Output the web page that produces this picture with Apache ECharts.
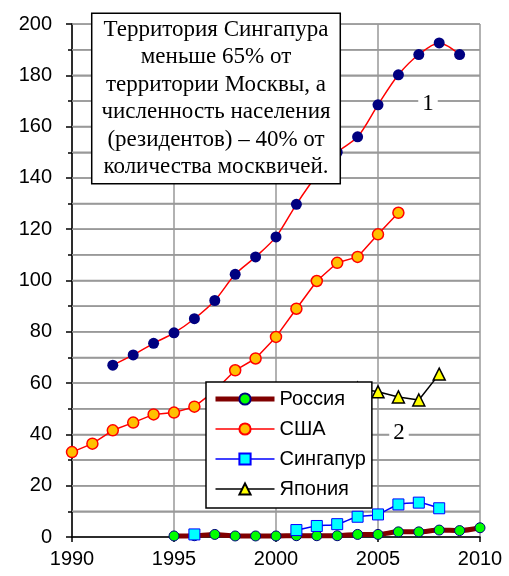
<!DOCTYPE html>
<html><head><meta charset="utf-8">
<script src="https://cdn.jsdelivr.net/npm/echarts@6/dist/echarts.min.js"></script>
<style>html,body{margin:0;padding:0;background:#fff}#c{width:509px;height:576px}</style>
</head><body><div id="c"></div>
<script>
const topYears = [1992,1993,1994,1995,1996,1997,1998,1999,2000,2001,2002,2003,2004,2005,2006,2007,2008,2009];
const topValues = [67,71,75.5,79.6,85.1,92.2,102.4,109.2,117,129.7,141,150,156,168.5,180.2,188.1,192.6,188.1];
const usaYears = [1990,1991,1992,1993,1994,1995,1996,1997,1998,1999,2000,2001,2002,2003,2004,2005,2006];
const usaValues = [33.1,36.4,41.6,44.6,47.8,48.5,50.8,57,65,69.6,78,89,99.8,106.9,109.2,118,126.4];
const singYears = [1996,1997,1998,1999,2000,2001,2002,2003,2004,2005,2006,2007,2008];
const singValues = [1,null,null,null,null,2.7,4.3,5,7.9,8.8,12.7,13.4,11.2];
const japanYears = [2004,2005,2006,2007,2008];
const japanValues = [58,56.6,54.6,53.4,63.5];
const russiaYears = [1995,1996,1997,1998,1999,2000,2001,2002,2003,2004,2005,2006,2007,2008,2009,2010];
const russiaValues = [0.4,0.5,1,0.4,0.4,0.4,0.5,0.5,0.5,1,1,2,2,2.7,2.5,3.6];
const legendNames = ['Россия','США','Сингапур','Япония'];
const legendLineWidths = [5, 1.5, 1.5, 1.5];
const xRange = [1990, 2010];
const gridValues = [10,20,30,40,50,60,70,80,90,100,110,120,130,140,150,160,170,180,190,200];
const noteText = 'Территория Сингапура\nменьше 65% от\nтерритории Москвы, а\nчисленность населения\n(резидентов) – 40% от\nколичества москвичей.';

const pairs = (xs, ys) => xs.map((x, i) => [x, ys[i]]);
const chart = echarts.init(document.getElementById('c'));
const sans = 'Liberation Sans';
const serif = 'Liberation Serif';
const gridSeries = gridValues.map(v => ({
  type: 'line', name: 'grid' + v, data: xRange.map(x => [x, v]), silent: true, z: 1,
  symbol: 'none', lineStyle: {color: '#999', width: 1.5}, emphasis: {disabled: true}, tooltip: {show: false}
}));
chart.setOption({
  animation: false,
  backgroundColor: '#fff',
  grid: {left: 72, right: 29, top: 24, bottom: 39},
  xAxis: {
    type: 'value', min: 1990, max: 2010, interval: 5,
    axisLine: {show: true, lineStyle: {color: '#000', width: 1.5}},
    axisTick: {show: true, length: 5, lineStyle: {color: '#000', width: 1.5}},
    axisLabel: {color: '#000', fontFamily: sans, fontSize: 20, margin: 12, formatter: v => String(v)},
    splitLine: {show: true, lineStyle: {color: '#999', width: 1.5}}
  },
  yAxis: {
    type: 'value', min: 0, max: 200, interval: 20,
    axisLine: {show: true, lineStyle: {color: '#000', width: 1.5}},
    axisTick: {show: true, length: 6, lineStyle: {color: '#000', width: 1.5}},
    axisLabel: {color: '#000', fontFamily: sans, fontSize: 20, margin: 20},
    splitLine: {show: true, lineStyle: {color: '#999', width: 1.5}},
    minorTick: {show: true, splitNumber: 2, length: 4, lineStyle: {color: '#000', width: 1.5}},
    minorSplitLine: {show: true, lineStyle: {color: '#999', width: 1.5}}
  },
  legend: {
    data: legendNames.map((n, i) => ({name: n, lineStyle: {width: legendLineWidths[i]}})),
    orient: 'vertical', left: 206, top: 382,
    backgroundColor: '#fff', borderColor: '#000', borderWidth: 1.5,
    padding: [7, 6, 9, 7], itemGap: 10, itemWidth: 59, itemHeight: 14,
    textStyle: {color: '#000', fontFamily: sans, fontSize: 20},
    z: 10
  },
  graphic: [
    {type: 'text', x: 216, y: 14, z: 20, style: {
      text: noteText, font: '23px ' + serif, fill: '#000', align: 'center', verticalAlign: 'top', lineHeight: 27.5,
      backgroundColor: '#fff', borderColor: '#000', borderWidth: 1.5, padding: [2, 9, 2, 9]
    }},
    {type: 'text', x: 428, y: 104, z: 20, style: {
      text: '1', font: '23px ' + serif, fill: '#000', align: 'center', verticalAlign: 'middle',
      backgroundColor: '#fff', padding: [0, 4]
    }},
    {type: 'text', x: 399, y: 433, z: 20, style: {
      text: '2', font: '23px ' + serif, fill: '#000', align: 'center', verticalAlign: 'middle',
      backgroundColor: '#fff', padding: [0, 4]
    }}
  ],
  series: gridSeries.concat([
    {type: 'line', name: 'top', smooth: 0.3, data: pairs(topYears, topValues),
     symbol: 'circle', symbolSize: 11, lineStyle: {color: '#ff0000', width: 1.5},
     itemStyle: {color: '#000080', borderWidth: 0}, z: 3},
    {type: 'line', name: 'США', data: pairs(usaYears, usaValues),
     symbol: 'circle', symbolSize: 11, lineStyle: {color: '#ff0000', width: 1.5},
     itemStyle: {color: '#ffc000', borderColor: '#ff0000', borderWidth: 1.5}, z: 3},
    {type: 'line', name: 'Япония', data: pairs(japanYears, japanValues),
     symbol: 'triangle', symbolSize: 12, lineStyle: {color: '#000', width: 1.5},
     itemStyle: {color: '#ffff00', borderColor: '#000', borderWidth: 1.5}, z: 3},
    {type: 'line', name: 'Россия', smooth: 0.3, data: pairs(russiaYears, russiaValues),
     symbol: 'circle', symbolSize: 10, lineStyle: {color: '#800000', width: 5},
     itemStyle: {color: '#00ff00', borderColor: '#000080', borderWidth: 1}, z: 3},
    {type: 'line', name: 'Сингапур', smooth: 0.3, connectNulls: false, data: pairs(singYears, singValues),
     symbol: 'rect', symbolSize: 11, lineStyle: {color: '#0000ff', width: 1.5},
     itemStyle: {color: '#00ffff', borderColor: '#0000ff', borderWidth: 1}, z: 4}
  ])
});
</script></body></html>
